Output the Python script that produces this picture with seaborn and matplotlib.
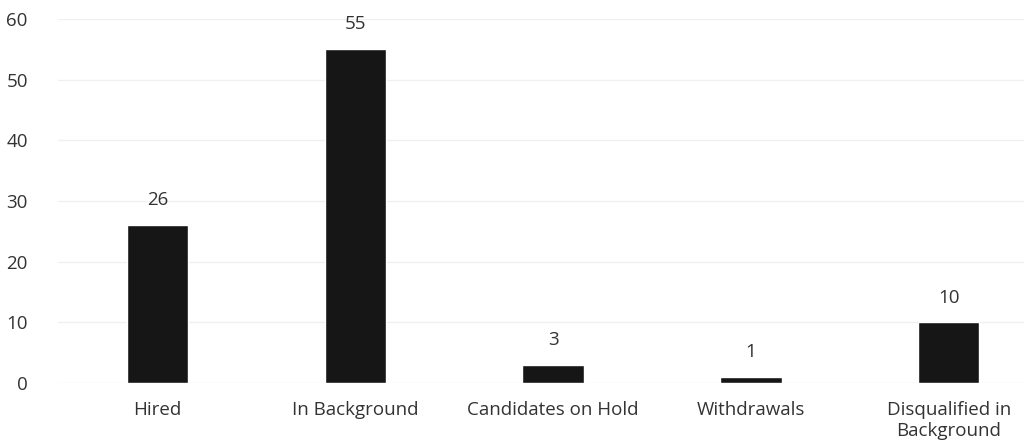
import numpy as np
import pandas as pd
import matplotlib
matplotlib.use("Agg")
import matplotlib.pyplot as plt
import seaborn as sns

# chart data
categories = ["Hired", "In Background", "Candidates on Hold", "Withdrawals",
              "Disqualified in\nBackground"]
counts = [26, 55, 3, 1, 10]
y_ticks = [0, 10, 20, 30, 40, 50, 60]

sns.set_theme(style="white")
plt.rcParams['font.family'] = ['Open Sans', 'DejaVu Sans']

df = pd.DataFrame({"category": categories, "count": counts})

fig = plt.figure(figsize=(10.24, 4.48), dpi=100)
ax = fig.add_axes([0.057, 0.145, 0.943, 0.813])

sns.barplot(data=df, x="category", y="count", color="#161616", width=0.31,
            saturation=1, ax=ax, zorder=3)

# value labels above bars
for i, v in enumerate(counts):
    ax.text(i, v + 2.6, str(v), ha="center", va="bottom", fontsize=13.5, color="#333333")

ax.set_ylim(0, 60)
ax.set_xlim(-0.5, 4.38)
ax.set_yticks(y_ticks)
ax.yaxis.grid(True, color="#f0f0f0", linewidth=1, zorder=0)
ax.set_xlabel("")
ax.set_ylabel("")
for s in ax.spines.values():
    s.set_visible(False)
ax.tick_params(axis="both", length=0, labelsize=13.5, colors="#333333")
ax.tick_params(axis="y", pad=22)
ax.tick_params(axis="x", pad=13)

fig.savefig("out.png", dpi=100, facecolor="white")
